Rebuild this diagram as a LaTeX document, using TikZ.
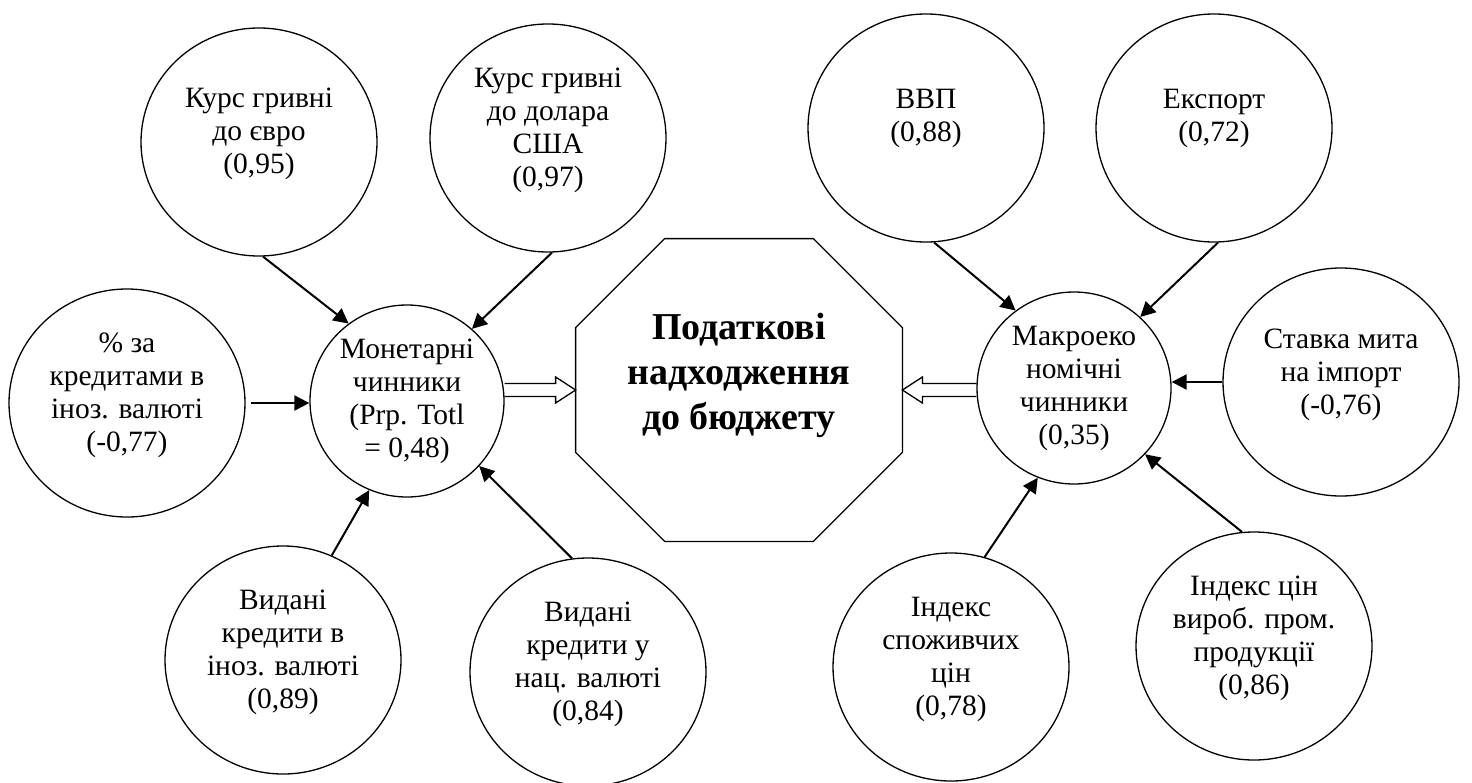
\documentclass[tikz,border=0pt]{standalone}
\usepackage{fontspec}
\setmainfont{Liberation Serif}
\usetikzlibrary{shapes.geometric,arrows.meta,calc}
\begin{document}
\begin{tikzpicture}[x=0.5pt,y=-0.5pt,
  circ/.style={draw, ellipse, line width=0.65pt, minimum width=118pt, minimum height=114pt, inner sep=0pt},
  hub/.style={circ, minimum width=97pt, minimum height=96pt},
  lbl/.style={align=center, inner sep=0pt, font=\fontsize{14.75}{16.5}\selectfont},
  arr/.style={line width=1pt, -{Triangle[length=7.5pt,width=7.5pt]}},
  hollow/.style={line width=0.65pt},
  octbox/.style={minimum width=163pt, minimum height=151pt, inner sep=0pt},
  octtext/.style={align=center, inner sep=0pt, font=\bfseries\fontsize{19}{22.5}\selectfont}]
\useasboundingbox (0,0) rectangle (1472,782);
\fill[white] (0,0) rectangle (1472,782);

% left group
\node[circ] (A) at (259,142) {};
\node[lbl] (At) at ($(A)+(0,-8)$) {Курс гривні\\до євро\\(0,95)};
\node[circ] (B) at (548,138) {};
\node[lbl] (Bt) at ($(B)+(0,-8)$) {Курс гривні\\до долара\\США\\(0,97)};
\node[circ] (C) at (127,403) {};
\node[lbl] (Ct) at ($(C)+(0,-8)$) {\% за\\кредитами в\\іноз. валюті\\(-0,77)};
\node[hub] (M) at (407,401) {};
\node[lbl] (Mt) at (M) {Монетарні\\чинники\\(Prp. Totl\\= 0,48)};
\node[circ] (D) at (283,660) {};
\node[lbl] (Dt) at ($(D)+(0,-8)$) {Видані\\кредити в\\іноз. валюті\\(0,89)};
\node[circ] (E) at (588,672) {};
\node[lbl] (Et) at ($(E)+(0,-8)$) {Видані\\кредити у\\нац. валюті\\(0,84)};

% centre
\node[octbox] (O) at (739,390) {};
\draw[line width=0.65pt] ($(O.north west)+(89,0)$) -- ($(O.north east)+(-89,0)$) -- ($(O.north east)+(0,89)$) -- ($(O.south east)+(0,-89)$) -- ($(O.south east)+(-89,0)$) -- ($(O.south west)+(89,0)$) -- ($(O.south west)+(0,-89)$) -- ($(O.north west)+(0,89)$) -- cycle;
\node[octtext] (OT) at (739,375) {Податкові\\надходження\\до бюджету};

% right group
\node[circ] (V) at (926,128) {};
\node[lbl] (Vt) at ($(V)+(0,-10)$) {ВВП\\(0,88)};
\node[circ] (X) at (1214,128) {};
\node[lbl] (Xt) at ($(X)+(0,-10)$) {Експорт\\(0,72)};
\node[hub] (K) at (1074,388) {};
\node[lbl] (Kt) at (K) {Макроеко\\номічні\\чинники\\(0,35)};
\node[circ] (S) at (1341,382) {};
\node[lbl] (St) at ($(S)+(0,-7)$) {Ставка мита\\на імпорт\\(-0,76)};
\node[circ] (F) at (951,667) {};
\node[lbl] (Ft) at ($(F)+(0,-8)$) {Індекс\\споживчих\\цін\\(0,78)};
\node[circ] (G) at (1254,646) {};
\node[lbl] (Gt) at ($(G)+(0,-8)$) {Індекс цін\\вироб. пром.\\продукції\\(0,86)};

% arrows to Монетарні
\draw[arr] (A.-88) -- (M.127);
\draw[arr] (B.-88.5) -- (M.48);
\draw[arr] ($(C.east)+(5,0)$) -- (C.east -| M.west);
\draw[arr] (D.65) -- (M.-113);
\draw[arr] (E.98) -- (M.-42.5);

% arrows to Макроекономічні
\draw[arr] (V.-86.5) -- (K.127);
\draw[arr] (X.-88.5) -- (K.47.4);
\draw[arr] (S.west) -- (S.west -| K.east);
\draw[arr] (F.73) -- (K.-112.4);
\draw[arr] (G.96.5) -- (K.-43.3);

% hollow arrows
\draw[hollow] ($(M.east |- O.west)+(0,-6.5)$) -- ($(O.west)+(-20,-6.5)$) -- ($(O.west)+(-20,-13)$) -- (O.west) -- ($(O.west)+(-20,13)$) -- ($(O.west)+(-20,6.5)$) -- ($(M.east |- O.west)+(0,6.5)$);
\draw[hollow] ($(K.west |- O.east)+(0,-6.5)$) -- ($(O.east)+(20,-6.5)$) -- ($(O.east)+(20,-13)$) -- (O.east) -- ($(O.east)+(20,13)$) -- ($(O.east)+(20,6.5)$) -- ($(K.west |- O.east)+(0,6.5)$);
\end{tikzpicture}
\end{document}
